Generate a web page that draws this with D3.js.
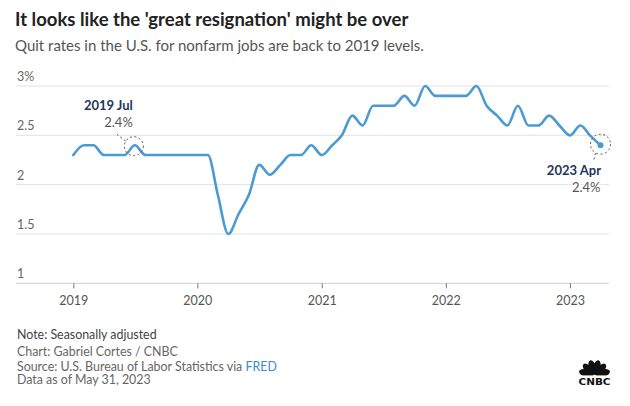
<!DOCTYPE html>
<html>
<head>
<meta charset="utf-8">
<script src="https://cdn.jsdelivr.net/npm/d3@7"></script>
<style>
  html, body { margin: 0; padding: 0; background: #fff; }
  svg { display: block; font-family: Lato, "Open Sans", sans-serif; }
</style>
</head>
<body>
<svg id="chart" width="630" height="406"></svg>
<script>
// ---- data ----
const months = [
  "2019-01","2019-02","2019-03","2019-04","2019-05","2019-06","2019-07","2019-08","2019-09","2019-10","2019-11","2019-12",
  "2020-01","2020-02","2020-03","2020-04","2020-05","2020-06","2020-07","2020-08","2020-09","2020-10","2020-11","2020-12",
  "2021-01","2021-02","2021-03","2021-04","2021-05","2021-06","2021-07","2021-08","2021-09","2021-10","2021-11","2021-12",
  "2022-01","2022-02","2022-03","2022-04","2022-05","2022-06","2022-07","2022-08","2022-09","2022-10","2022-11","2022-12",
  "2023-01","2023-02","2023-03","2023-04"
];
const quitRates = [
  2.3,2.4,2.4,2.3,2.3,2.3,2.4,2.3,2.3,2.3,2.3,2.3,
  2.3,2.3,1.9,1.5,1.7,1.9,2.2,2.1,2.2,2.3,2.3,2.4,
  2.3,2.4,2.5,2.7,2.6,2.8,2.8,2.8,2.9,2.8,3.0,2.9,
  2.9,2.9,2.9,3.0,2.8,2.7,2.6,2.8,2.6,2.6,2.7,2.6,
  2.5,2.6,2.5,2.4
];
const yTicks = [1, 1.5, 2, 2.5, 3];
const yTickLabels = ["1", "1.5", "2", "2.5", "3%"];
const xTickYears = [2019, 2020, 2021, 2022, 2023];
const annotations = [
  { month: "2019-07", title: "2019 Jul", value: "2.4%" },
  { month: "2023-04", title: "2023 Apr", value: "2.4%" }
];
const footerLines = [
  "Note: Seasonally adjusted",
  "Chart: Gabriel Cortes / CNBC",
  "Source: U.S. Bureau of Labor Statistics via ",
  "Data as of May 31, 2023"
];

// ---- setup ----
const parse = d3.timeParse("%Y-%m");
const data = months.map((m, i) => ({ date: parse(m), value: quitRates[i] }));
const svg = d3.select("#chart");

const x = d3.scaleTime()
  .domain([parse("2019-01"), parse("2023-04")])
  .range([73.3, 600.5]);
const y = d3.scaleLinear().domain([1, 3]).range([283.3, 86]);
const gridLeft = 16, gridRight = 609;

// title
svg.append("text").attr("x", 15).attr("y", 25.5)
  .attr("font-size", 18.5).attr("font-weight", 700).attr("fill", "#222")
  .text("It looks like the 'great resignation' might be over");
svg.append("text").attr("x", 15).attr("y", 51)
  .attr("font-size", 15).attr("fill", "#555")
  .text("Quit rates in the U.S. for nonfarm jobs are back to 2019 levels.");

// gridlines
const grid = svg.append("g");
yTicks.forEach((t, i) => {
  grid.append("line")
    .attr("x1", gridLeft).attr("x2", gridRight)
    .attr("y1", y(t)).attr("y2", y(t))
    .attr("stroke", i === 0 ? "#cfcfcf" : "#e2e2e2").attr("stroke-width", 1);
  grid.append("text")
    .attr("x", 17).attr("y", y(t) - 5)
    .attr("font-size", 12.5).attr("fill", "#666")
    .text(yTickLabels[i]);
});

// x axis
const xAxis = d3.axisBottom(x)
  .tickValues(xTickYears.map(yv => new Date(yv, 0, 1)))
  .tickFormat(d3.timeFormat("%Y"))
  .tickSize(5).tickPadding(8);
const gx = svg.append("g").attr("transform", `translate(0,${y(1)})`).call(xAxis);
gx.select(".domain").remove();
gx.selectAll(".tick line").attr("stroke", "#777");
gx.selectAll(".tick text").attr("font-size", 12.5).attr("fill", "#555")
  .attr("font-family", "Lato, sans-serif");

// line
const line = d3.line().x(d => x(d.date)).y(d => y(d.value)).curve(d3.curveMonotoneX);
svg.append("path").datum(data)
  .attr("d", line).attr("fill", "none")
  .attr("stroke", "#4b9ad2").attr("stroke-width", 2.6)
  .attr("stroke-linejoin", "round").attr("stroke-linecap", "round");

// end dot
const last = data[data.length - 1];
svg.append("circle").attr("cx", x(last.date)).attr("cy", y(last.value))
  .attr("r", 3).attr("fill", "#4b9ad2");

// annotations
const a1 = data.find(d => +d.date === +parse(annotations[0].month));
const a2 = data.find(d => +d.date === +parse(annotations[1].month));
function dashedCircle(cx, cy, r) {
  svg.append("circle").attr("cx", cx).attr("cy", cy).attr("r", r)
    .attr("fill", "none").attr("stroke", "#555").attr("stroke-width", 1)
    .attr("stroke-dasharray", "2,2.5");
}
// 2019 Jul
{
  const cx = x(a1.date) - 1, cy = y(a1.value) + 1;
  dashedCircle(cx, cy, 9.5);
  svg.append("line").attr("x1", cx - 17).attr("y1", cy - 12)
    .attr("x2", cx - 8).attr("y2", cy - 5)
    .attr("stroke", "#555").attr("stroke-dasharray", "2,2.5");
  svg.append("text").attr("x", cx - 1).attr("y", 110).attr("text-anchor", "end")
    .attr("font-size", 13).attr("font-weight", 700).attr("fill", "#1e3658")
    .text(annotations[0].title);
  svg.append("text").attr("x", cx - 1).attr("y", 127).attr("text-anchor", "end")
    .attr("font-size", 13).attr("fill", "#555")
    .text(annotations[0].value);
}
// 2023 Apr
{
  const cx = x(a2.date), cy = y(a2.value) - 1;
  dashedCircle(cx, cy, 10);
  svg.append("line").attr("x1", cx - 5).attr("y1", cy + 9)
    .attr("x2", cx - 7).attr("y2", cy + 17)
    .attr("stroke", "#555").attr("stroke-dasharray", "2,2.5");
  svg.append("text").attr("x", cx + 0.5).attr("y", 175).attr("text-anchor", "end")
    .attr("font-size", 13).attr("font-weight", 700).attr("fill", "#1e3658")
    .text(annotations[1].title);
  svg.append("text").attr("x", cx).attr("y", 191.5).attr("text-anchor", "end")
    .attr("font-size", 13).attr("fill", "#555")
    .attr("stroke", "#fff").attr("stroke-width", 3).attr("paint-order", "stroke")
    .text(annotations[1].value);
}

// footer
const footY = [339, 355.5, 370.5, 384];
footerLines.forEach((t, i) => {
  const tx = svg.append("text").attr("x", 17).attr("y", footY[i])
    .attr("font-size", 12.4).attr("fill", i === 0 ? "#444" : "#666").text(t);
  if (i === 2) tx.append("tspan").attr("fill", "#3a8bcc").text("FRED");
});

// CNBC logo (simplified peacock)
const logo = svg.append("g").attr("transform", "translate(594.5,376)");
const feathers = [-72, -43, -14.5, 14.5, 43, 72];
feathers.forEach(a => {
  logo.append("ellipse")
    .attr("cx", 0).attr("cy", -8.8).attr("rx", 3.7).attr("ry", 7.4)
    .attr("fill", "#111")
    .attr("transform", `rotate(${a})`);
});
logo.append("rect").attr("x", -17).attr("y", -0.6).attr("width", 34).attr("height", 3).attr("fill", "#fff");
logo.append("text").attr("x", 0).attr("y", 8.5).attr("text-anchor", "middle")
  .attr("font-size", 9).attr("font-weight", 900).attr("fill", "#111")
  .attr("font-family", "'DejaVu Sans', sans-serif")
  .attr("textLength", 32).attr("lengthAdjust", "spacingAndGlyphs")
  .text("CNBC");
</script>
</body>
</html>
